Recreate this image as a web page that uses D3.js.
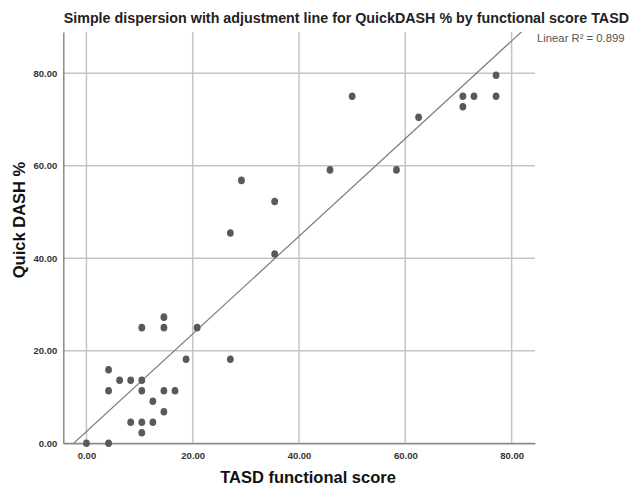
<!DOCTYPE html>
<html>
<head>
<meta charset="utf-8">
<title>QuickDASH by TASD scatter</title>
<script src="https://cdn.jsdelivr.net/npm/d3@7/dist/d3.min.js"></script>
<style>
    body { margin: 0; background: #fff; }
    svg { font-family: "Liberation Sans", Arial, sans-serif; }
</style>
</head>
<body>
<svg id="chart" width="630" height="487"></svg>
<script>
    // values
    var tasd = [0, 4.17, 4.17, 4.17, 6.25, 8.33, 8.33, 10.42, 10.42, 10.42, 10.42, 10.42,
                12.5, 12.5, 14.58, 14.58, 14.58, 14.58, 16.67, 18.75, 20.83, 27.08, 27.08,
                29.17, 35.42, 35.42, 45.83, 50.0, 58.33, 62.5, 70.83, 70.83, 72.92, 77.08, 77.08];
    var quickDash = [0, 0, 11.36, 15.91, 13.64, 13.64, 4.55, 25.0, 13.64, 11.36, 4.55, 2.27,
                     9.09, 4.55, 27.27, 25.0, 11.36, 6.82, 11.36, 18.18, 25.0, 45.45, 18.18,
                     56.82, 52.27, 40.91, 59.09, 75.0, 59.09, 70.45, 75.0, 72.73, 75.0, 79.55, 75.0];
    var xTicks = [0, 20, 40, 60, 80];
    var yTicks = [0, 20, 40, 60, 80];
    var r2Label = "0.899";

    var svg = d3.select("#chart");
    // plot box (named so they don't clash with window.top)
    var pLeft = 63.3, pRight = 535, pTop = 32, pBottom = 443.3;

    var x = d3.scaleLinear().domain([-4.35, 84.4]).range([pLeft, pRight]);
    var y = d3.scaleLinear().domain([0, 88.9]).range([pBottom, pTop]);

    // gridlines
    svg.append("g").selectAll("line").data(xTicks).join("line")
        .attr("x1", d => x(d)).attr("x2", d => x(d))
        .attr("y1", pTop).attr("y2", pBottom)
        .attr("stroke", "#c4c4c4").attr("stroke-width", 1.5);
    svg.append("g").selectAll("line").data(yTicks).join("line")
        .attr("x1", pLeft).attr("x2", pRight)
        .attr("y1", d => y(d)).attr("y2", d => y(d))
        .attr("stroke", "#c4c4c4").attr("stroke-width", 1.5);

    // least squares fit line
    var mx = d3.mean(tasd), my = d3.mean(quickDash);
    var sxy = d3.sum(tasd, (v, i) => (v - mx) * (quickDash[i] - my));
    var sxx = d3.sum(tasd, v => (v - mx) * (v - mx));
    var slope = sxy / sxx, icpt = my - slope * mx;

    svg.append("clipPath").attr("id", "clip")
        .append("rect").attr("x", pLeft).attr("y", pTop)
        .attr("width", pRight - pLeft).attr("height", pBottom - pTop);

    var xd = x.domain();
    svg.append("line")
        .attr("clip-path", "url(#clip)")
        .attr("x1", x(xd[0])).attr("y1", y(icpt + slope * xd[0]))
        .attr("x2", x(xd[1])).attr("y2", y(icpt + slope * xd[1]))
        .attr("stroke", "#7a7a7a").attr("stroke-width", 1.2);

    // axes
    var xAxis = svg.append("g").attr("transform", "translate(0," + pBottom + ")")
        .call(d3.axisBottom(x).tickValues(xTicks).tickFormat(d3.format(".2f")).tickSize(0).tickPadding(9));
    var yAxis = svg.append("g").attr("transform", "translate(" + pLeft + ",0)")
        .call(d3.axisLeft(y).tickValues(yTicks).tickFormat(d3.format(".2f")).tickSize(0).tickPadding(6));
    [xAxis, yAxis].forEach(function(a) {
        a.select(".domain").attr("stroke", "#8a8a8a").attr("stroke-width", 1.5);
        a.selectAll("text").attr("font-size", 9.5).attr("font-weight", "bold").attr("fill", "#333")
            .attr("font-family", "'Liberation Sans', Arial, sans-serif");
    });

    // points
    svg.append("g").selectAll("ellipse").data(tasd).join("ellipse")
        .attr("cx", d => x(d))
        .attr("cy", (d, i) => y(quickDash[i]))
        .attr("rx", 3.4).attr("ry", 3.8)
        .attr("fill", "#595959");

    // text
    svg.append("text").attr("x", 629).attr("y", 23)
        .attr("text-anchor", "end").attr("font-size", 14.3).attr("font-weight", "bold").attr("fill", "#222")
        .text("Simple dispersion with adjustment line for QuickDASH % by functional score TASD");
    svg.append("text").attr("x", 308).attr("y", 483)
        .attr("text-anchor", "middle").attr("font-size", 16.5).attr("font-weight", "bold").attr("fill", "#111")
        .text("TASD functional score");
    svg.append("text").attr("transform", "translate(25,220) rotate(-90)")
        .attr("text-anchor", "middle").attr("font-size", 16.5).attr("font-weight", "bold").attr("fill", "#111")
        .text("Quick DASH %");
    svg.append("text").attr("x", 537).attr("y", 42)
        .attr("font-size", 11.3).attr("fill", "#555")
        .text("Linear R\u00b2 = " + r2Label);
</script>
</body>
</html>
